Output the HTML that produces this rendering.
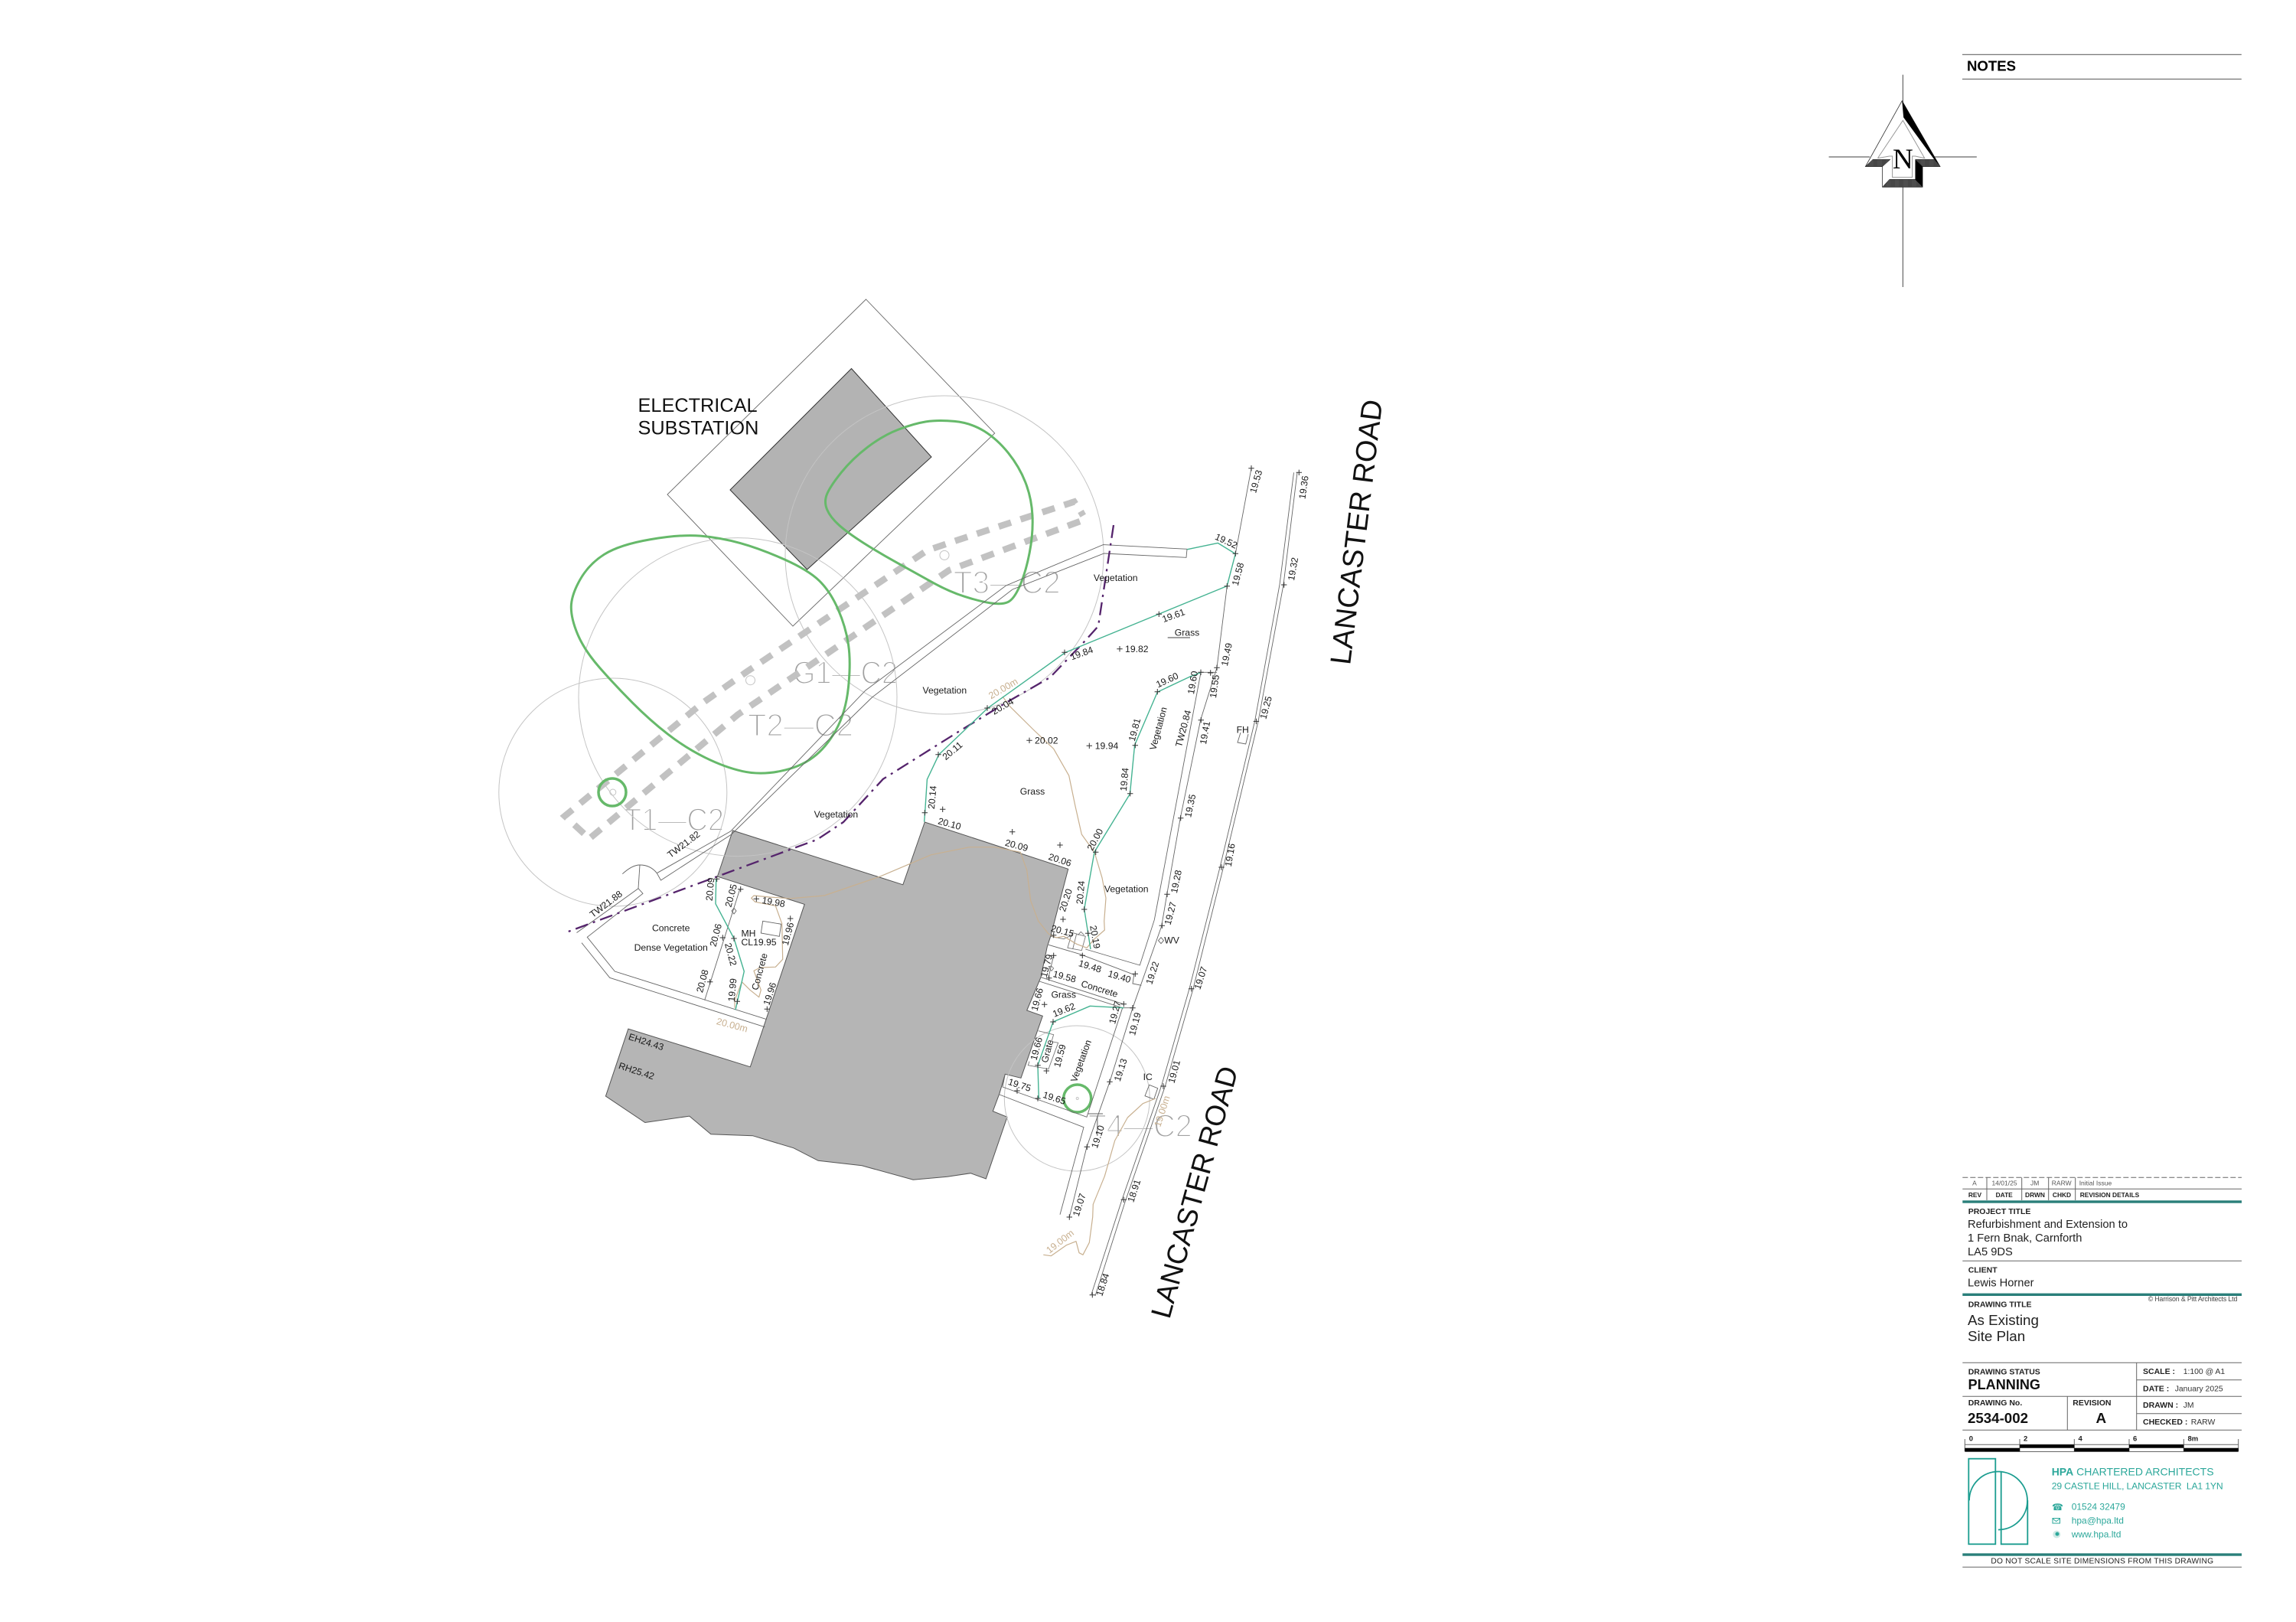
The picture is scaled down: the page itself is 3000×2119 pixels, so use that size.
<!DOCTYPE html>
<html lang="en">
<head>
<meta charset="utf-8">
<title>As Existing Site Plan</title>
<style>
html,body{margin:0;padding:0;background:#fff}
svg{display:block}
.z *{vector-effect:non-scaling-stroke}
text{font-family:"Liberation Sans",sans-serif}
</style>
</head>
<body>
<svg xmlns="http://www.w3.org/2000/svg" width="3000" height="2119" viewBox="0 0 3000 2119">
<defs>
<path id="c" d="M-3.7 0H3.7M0-3.7V3.7" fill="none" stroke="#333" stroke-width="1"/>
<pattern id="h" width="2.4" height="4" patternUnits="userSpaceOnUse"><rect width="2.4" height="4" fill="#999"/><rect width="1.6" height="4" fill="#222"/></pattern>
</defs>
<rect width="3000" height="2119" fill="#fff"/>

<!-- tree labels -->
<g font-size="42" fill="#a0a0a0" stroke="#fff" stroke-width="2">
<text x="1245.7" y="775" textLength="140" lengthAdjust="spacingAndGlyphs">T3—C2</text>
<text x="1036" y="892.8" textLength="137" lengthAdjust="spacingAndGlyphs">G1—C2</text>
<text x="977" y="961.6" textLength="138" lengthAdjust="spacingAndGlyphs">T2—C2</text>
<text x="815" y="1085" textLength="131" lengthAdjust="spacingAndGlyphs">T1—C2</text>
<text x="1421.7" y="1485" textLength="136" lengthAdjust="spacingAndGlyphs">T4—C2</text>
</g>

<!-- substation -->
<polygon points="1131.5,391 1299.7,566 1036,818 872,646" fill="none" stroke="#666" stroke-width=".9"/>
<polygon points="1112.5,481.5 1217,597 1054.6,744 954,640" fill="#b3b3b3" stroke="#333" stroke-width="1"/>

<!-- main building -->
<polygon fill="#b5b5b5" stroke="#555" stroke-width="1" points="957.5,1085 1179.8,1155.8 1208.3,1074 1395.7,1135.3 1372.7,1223.3 1368.3,1236.7 1360,1276.7 1341.7,1320 1362.3,1327.3 1334,1408.3 1313.3,1403.3 1306,1428.3 1297.3,1451.7 1316,1459.3 1288.3,1540 1268.2,1532.7 1237.8,1537.3 1193.2,1541.2 1126.2,1522.8 1069.1,1516.3 1037,1499.8 983.4,1483.7 928.9,1481.8 900.8,1458.1 842.8,1466.5 791.4,1432.1 820.9,1344.1 980.3,1393.8 1051.2,1181.4 937.4,1145.1"/>

<!-- tree constraint circles -->
<g fill="none" stroke="#c4c4c4" stroke-width="1">
<circle cx="1234" cy="725" r="208"/>
<circle cx="964" cy="910.6" r="208"/>
<circle cx="800.8" cy="1035" r="149"/>
<circle cx="1407.3" cy="1435" r="95"/>
<circle cx="1234" cy="725.4" r="6"/>
<circle cx="980.5" cy="888.7" r="6"/>
<circle cx="800.8" cy="1035" r="4"/>
<circle cx="1407.7" cy="1435" r="1.5"/>
</g>

<!-- root protection dashes -->
<g fill="none" stroke="#c2c2c2" stroke-width="8.5" stroke-dasharray="17 13">
<path d="M763,1089L738,1066L918.5,918L976,877.4L1211,719.3L1248.5,706.5L1403.5,655.5L1409,664"/>
<path d="M772,1094L964,933.6L1240,745L1418,678.5L1412,668"/>
</g>

<!-- canopy spreads -->
<g class="z" transform="translate(620 380) scale(.574 .5102)" fill="none" stroke="#66b96a" stroke-width="3">
<path d="M515,627.5 Q560,632 605,646 Q650,660 705,687.5 Q760,715 785,742.5 Q810,770 827.5,815 Q845,860 851,905 Q857,950 851,1015 Q845,1080 822.5,1125 Q800,1170 770,1195 Q740,1220 695,1230 Q650,1240 610,1230 Q570,1220 525,1195 Q480,1170 440,1135 Q400,1100 360,1055 Q320,1010 285,965 Q250,920 235,880 Q220,840 220,810 Q220,780 240,740 Q260,700 295,675 Q330,650 400,636.5 Q470,623 515,627.5Z"/>
<path d="M1092.5,334 Q1130,338 1160,359 Q1190,380 1215,415 Q1240,450 1254,490 Q1268,530 1270,575 Q1272,620 1263.5,670 Q1255,720 1241.5,755 Q1228,790 1214,797 Q1200,804 1175,799.5 Q1150,795 1115,782.5 Q1080,770 1040,745 Q1000,720 960,695 Q920,670 885,645 Q850,620 830,600 Q810,580 802.5,560 Q795,540 802.5,520 Q810,500 835,465 Q860,430 895,400 Q930,370 965,355 Q1000,340 1027.5,335 Q1055,330 1092.5,334Z"/>
</g>
<g fill="none" stroke="#66b96a" stroke-width="3.5">
<circle cx="800" cy="1035" r="18"/>
<circle cx="1407.7" cy="1435" r="18"/>
</g>

<!-- thin linework -->
<g fill="none" stroke="#666" stroke-width=".9">
<!-- boundary walls -->
<polyline points="858.3,1140.7 954.6,1086 1130.9,902 1314.5,765 1441.5,711.6 1551,717.3 1550,728.3 1442.5,723 1323,770 1139.5,911 955.8,1090 863.5,1150 858.3,1140.7"/>
<!-- door arcs -->
<path d="M813.3,1141.7 Q826,1130 836,1130 Q850,1130 858.3,1140.7"/>
<path d="M836,1130L834,1160.7"/>
<polyline points="753.5,1218.5 834,1160.7 840,1167.3 767.3,1224.3 803.3,1269 1001.7,1331.7"/>
<polyline points="760,1231.7 796.7,1277.3 999.3,1341.7"/>
<!-- yard -->
<line x1="966.7" y1="1161.7" x2="920.7" y2="1306.7"/>
<polygon points="996.7,1203.3 1020.7,1207.3 1018.3,1223.3 994.3,1219"/>
<polygon points="959,1186.3 962,1190 959,1194 956,1190"/>
<!-- east road kerb -->
<polyline points="1695,617.3 1677,763.7 1644,942.4 1598.5,1133 1559,1291.7 1522.5,1418.7 1471,1567.3 1431,1693"/>
<polyline points="1690.5,617.3 1672,763.7 1639.5,942.4 1594,1133 1554,1291.7 1517.5,1418.7 1466,1567.3 1426,1691"/>
<!-- footway back -->
<polyline points="1635,611.7 1614.3,723.3 1603.3,765.7 1590,872.3 1568.7,940.5 1542.4,1067.9 1524.7,1168.6 1517.7,1210 1480,1316.7 1450,1413.3 1420,1498.3 1397.3,1590"/>
<line x1="1569" y1="878.3" x2="1590" y2="878.3"/>
<!-- inner wall -->
<polyline points="1569,878.5 1512.4,1180 1508.3,1201.7 1489.3,1261 1418.3,1240"/>
<polyline points="1370,1234.3 1411.7,1246.7 1481.7,1273.3 1480,1285 1491.3,1287.3"/>
<polyline points="1360,1276.7 1467.7,1311.7"/>
<polyline points="1358,1282 1466.7,1316.7 1480,1316.7"/>
<polyline points="1466.7,1316.7 1420,1459.3 1310,1420 1313.3,1403.3"/>
<polyline points="1306,1430 1416,1472.7 1385,1586.7"/>
<line x1="1376.7" y1="1248.3" x2="1370" y2="1276.7"/>
<line x1="1525.7" y1="833" x2="1555" y2="833" stroke-width="1.3"/>
<line x1="1421.7" y1="1455" x2="1441" y2="1455"/>
<!-- FH, IC, WV -->
<polyline points="1621,957 1617,970 1627.7,972 1631,959"/>
<polygon points="1501.7,1417.3 1512.7,1421.7 1507.7,1436 1496,1431.7"/>
<polygon points="1517,1224.7 1520.5,1228.7 1517,1232.7 1513.5,1228.7"/>
</g>

<!-- detail boxes -->
<g class="z" transform="translate(1280 1130) scale(.3333)" fill="none" stroke="#777" stroke-width=".9">
<polyline points="230,650 290,665 282,692 308,697 270,800 190,785 195,770"/>
<polygon points="362,265 415,280 400,335 345,325"/>
<line x1="380" y1="270" x2="365" y2="330"/>
<polyline points="385,275 397,262 410,275"/>
<polyline points="278,280 330,290 362,275"/>
<polygon points="280,395 290,405 282,415 272,405"/>
</g>

<!-- purple boundary -->
<polyline fill="none" stroke="#55246c" stroke-width="2.3" stroke-dasharray="17 7 3 7" points="1455,686 1435,818 1418,837 1372,885 1314.5,918 1251.4,956.5 1153.8,1017.8 1102,1074 1067.7,1096.8 937.4,1145 740,1218"/>

<!-- tan contours -->
<g fill="none" stroke="#c8b090" stroke-width="1.2" stroke-linejoin="round">
<polyline points="1310,910 1320,923.3 1350,953 1376.7,978.3 1396.7,1013.3 1405,1053.3 1413.3,1090 1430,1113.3 1440,1146.7 1445,1173.3 1442.7,1203.3 1443.3,1215 1430,1226.7 1420,1238.3 1406.7,1233.3 1390,1223.3 1380,1225 1370,1220 1356.7,1203.3 1346.7,1176.7 1341.7,1136.7 1333.3,1113.3 1300,1106.7 1266.7,1106.7 1216.7,1116.7 1150,1145 1077,1170 1032.5,1173.8 1005.7,1172 985,1170 981.7,1173.3 986.7,1178.3 1013.3,1183.3 1021.7,1206.7 1022.7,1253.3 1013.3,1263.3 993.3,1264 985,1268.3 994.3,1293.3 991.7,1302.7 980,1293.3 969.3,1282.7 960,1306.7 960,1316.7"/>
<polyline points="1363.3,1639.3 1373.3,1640.7 1393.3,1626.7 1406,1621.7 1410,1636.7 1415,1639.3 1423.3,1623.3 1427.7,1590 1428.3,1573.3 1443.3,1536.7 1456.7,1490 1473.3,1460 1493.3,1441.7 1510,1435"/>
</g>

<!-- green survey lines -->
<g fill="none" stroke="#45b392" stroke-width="1.4" stroke-linejoin="round">
<polyline points="1551,717.8 1591.2,709.4 1614.2,723.5 1603.2,765.6 1514.7,802 1391.8,852.5 1290.4,925.2 1226.8,985.7 1211.4,1018.2 1208.6,1061.4 1207.6,1073.7"/>
<polyline points="1569.2,878.5 1554.4,884.2 1512.3,904.1 1482.6,973.4 1476.4,1037.3 1430,1113 1416.7,1187.7 1425,1240"/>
<polyline points="1468.3,1316.7 1424.3,1314.3 1376,1335 1356,1391.7 1357.3,1435"/>
<polyline points="935.7,1148.3 935,1180.7 959,1226 972.3,1269 961,1319.3"/>
</g>

<!-- survey crosses -->
<g>
<use href="#c" x="1635" y="611.7"/><use href="#c" x="1697.3" y="617.3"/><use href="#c" x="1614.3" y="723.3"/><use href="#c" x="1603.3" y="765.7"/><use href="#c" x="1677.7" y="764"/><use href="#c" x="1514.3" y="802.3"/><use href="#c" x="1391" y="852.3"/><use href="#c" x="1590" y="872.3"/><use href="#c" x="1581.7" y="879"/><use href="#c" x="1569" y="878.3"/><use href="#c" x="1512.3" y="903.7"/>
<use href="#c" x="1290" y="925"/><use href="#c" x="1226" y="985.7"/><use href="#c" x="1208.3" y="1061.7"/><use href="#c" x="1569.3" y="940.7"/><use href="#c" x="1483.3" y="973.7"/><use href="#c" x="1476.7" y="1036.7"/><use href="#c" x="1431.7" y="1113.3"/><use href="#c" x="1542.7" y="1068.7"/><use href="#c" x="1525" y="1168.3"/><use href="#c" x="1518.3" y="1209.3"/><use href="#c" x="1416.7" y="1188"/><use href="#c" x="1421.7" y="1219.3"/><use href="#c" x="1376.7" y="1221.7"/>
<use href="#c" x="1641.4" y="942.4"/><use href="#c" x="1596" y="1133"/>
<use href="#c" x="1414.3" y="1248.3"/><use href="#c" x="1483.3" y="1272.3"/><use href="#c" x="1376.7" y="1248.3"/><use href="#c" x="1370.7" y="1277.7"/><use href="#c" x="1556.7" y="1291.7"/><use href="#c" x="1364.7" y="1312.3"/><use href="#c" x="1468.3" y="1311.7"/><use href="#c" x="1480" y="1316.7"/><use href="#c" x="1376" y="1335"/><use href="#c" x="1356" y="1391.7"/><use href="#c" x="1367.3" y="1399"/><use href="#c" x="1450" y="1413.3"/><use href="#c" x="1520" y="1419"/><use href="#c" x="1329" y="1425"/><use href="#c" x="1356" y="1435"/><use href="#c" x="1420.3" y="1498.3"/>
<use href="#c" x="1397.3" y="1590"/><use href="#c" x="1468.3" y="1567.3"/><use href="#c" x="1427.3" y="1691.7"/>
<use href="#c" x="936.7" y="1148.3"/><use href="#c" x="967.7" y="1161.7"/><use href="#c" x="988.3" y="1174.3"/><use href="#c" x="1032.7" y="1200"/><use href="#c" x="944.3" y="1225"/><use href="#c" x="959" y="1226"/><use href="#c" x="927.7" y="1282.7"/><use href="#c" x="963.3" y="1308.3"/><use href="#c" x="1002.3" y="1318.3"/>
<use href="#c" x="1463" y="847.7"/><use href="#c" x="1423.3" y="974.3"/><use href="#c" x="1345" y="967.3"/><use href="#c" x="1231.7" y="1057.3"/><use href="#c" x="1322.7" y="1086.7"/><use href="#c" x="1385" y="1104"/><use href="#c" x="1389" y="1201"/>
</g>

<!-- big labels -->
<g fill="#111">
<text x="833.5" y="538" font-size="25.3">ELECTRICAL</text>
<text x="833.5" y="567.5" font-size="25.3">SUBSTATION</text>
<text transform="translate(1772 695) rotate(-83)" font-size="38" text-anchor="middle" dy=".35em">LANCASTER ROAD</text>
<text transform="translate(1560.5 1557.3) rotate(-74.6)" font-size="37" text-anchor="middle" dy=".35em">LANCASTER ROAD</text>
</g>

<!-- spot labels -->
<g font-size="12.2" text-anchor="middle" fill="#1a1a1a">
<text transform="translate(1641 629) rotate(-74)" dy=".35em">19.53</text>
<text transform="translate(1703.3 636.7) rotate(-82)" dy=".35em">19.36</text>
<text transform="translate(1602.3 706.7) rotate(25)" dy=".35em">19.52</text>
<text transform="translate(1617.3 750) rotate(-75)" dy=".35em">19.58</text>
<text transform="translate(1457.7 754.7)" dy=".35em">Vegetation</text>
<text transform="translate(1689.3 743.3) rotate(-80)" dy=".35em">19.32</text>
<text transform="translate(1533.3 804) rotate(-20)" dy=".35em">19.61</text>
<text transform="translate(1551 826)" dy=".35em">Grass</text>
<text transform="translate(1413.3 853.3) rotate(-20)" dy=".35em">19.84</text>
<text transform="translate(1485.3 847.7)" dy=".35em">19.82</text>
<text transform="translate(1602.7 855) rotate(-78)" dy=".35em">19.49</text>
<text transform="translate(1525 888.3) rotate(-25)" dy=".35em">19.60</text>
<text transform="translate(1558.3 891.7) rotate(-80)" dy=".35em">19.60</text>
<text transform="translate(1586.7 896.7) rotate(-82)" dy=".35em">19.55</text>
<text transform="translate(1653.9 924.4) rotate(-75)" dy=".35em">19.25</text>
<text transform="translate(1574.3 957.3) rotate(-80)" dy=".35em">19.41</text>
<text transform="translate(1546 951.7) rotate(-75)" dy=".35em">TW20.84</text>
<text transform="translate(1513.3 951.7) rotate(-75)" dy=".35em">Vegetation</text>
<text transform="translate(1482.3 953.3) rotate(-75)" dy=".35em">19.81</text>
<text transform="translate(1469 1018.3) rotate(-85)" dy=".35em">19.84</text>
<text transform="translate(1446 974.3)" dy=".35em">19.94</text>
<text transform="translate(1367.3 967.3)" dy=".35em">20.02</text>
<text transform="translate(1310 922.7) rotate(-30)" dy=".35em">20.04</text>
<text transform="translate(1234.3 901.7)" dy=".35em">Vegetation</text>
<text transform="translate(1244.3 980.7) rotate(-40)" dy=".35em">20.11</text>
<text transform="translate(1218 1041.7) rotate(-85)" dy=".35em">20.14</text>
<text transform="translate(1349 1033.7)" dy=".35em">Grass</text>
<text transform="translate(1240.7 1076) rotate(15)" dy=".35em">20.10</text>
<text transform="translate(1328.3 1104.3) rotate(15)" dy=".35em">20.09</text>
<text transform="translate(1385 1123.3) rotate(18)" dy=".35em">20.06</text>
<text transform="translate(1430.7 1096.7) rotate(-62)" dy=".35em">20.00</text>
<text transform="translate(1555 1052.7) rotate(-78)" dy=".35em">19.35</text>
<text transform="translate(1607 1117) rotate(-80)" dy=".35em">19.16</text>
<text transform="translate(1536.7 1151.7) rotate(-78)" dy=".35em">19.28</text>
<text transform="translate(1411.7 1166) rotate(-85)" dy=".35em">20.24</text>
<text transform="translate(1471.7 1161)" dy=".35em">Vegetation</text>
<text transform="translate(1392.3 1176) rotate(-72)" dy=".35em">20.20</text>
<text transform="translate(1388.3 1216) rotate(15)" dy=".35em">20.15</text>
<text transform="translate(1431 1224) rotate(80)" dy=".35em">20.19</text>
<text transform="translate(1529 1193.3) rotate(-75)" dy=".35em">19.27</text>
<text transform="translate(1531 1228.3)" dy=".35em">WV</text>
<text transform="translate(1092.4 1063.7)" dy=".35em">Vegetation</text>
<text transform="translate(1424.3 1262.3) rotate(17)" dy=".35em">19.48</text>
<text transform="translate(1462.7 1275.7) rotate(17)" dy=".35em">19.40</text>
<text transform="translate(1505.7 1271) rotate(-72)" dy=".35em">19.22</text>
<text transform="translate(1367.3 1261.7) rotate(-75)" dy=".35em">19.79</text>
<text transform="translate(1391 1275.7) rotate(15)" dy=".35em">19.58</text>
<text transform="translate(1436.7 1291.7) rotate(17)" dy=".35em">Concrete</text>
<text transform="translate(1568.7 1277.7) rotate(-72)" dy=".35em">19.07</text>
<text transform="translate(1389.7 1299.3)" dy=".35em">Grass</text>
<text transform="translate(1355 1305.7) rotate(-75)" dy=".35em">19.66</text>
<text transform="translate(1390 1319.3) rotate(-22)" dy=".35em">19.62</text>
<text transform="translate(1456.7 1322.7) rotate(-75)" dy=".35em">19.27</text>
<text transform="translate(1482.7 1337.7) rotate(-75)" dy=".35em">19.19</text>
<text transform="translate(1354 1370) rotate(-75)" dy=".35em">19.66</text>
<text transform="translate(1368.3 1373.3) rotate(-75)" dy=".35em">Grate</text>
<text transform="translate(1384.7 1379.3) rotate(-75)" dy=".35em">19.59</text>
<text transform="translate(1412.3 1386) rotate(-70)" dy=".35em">Vegetation</text>
<text transform="translate(1464 1397.7) rotate(-72)" dy=".35em">19.13</text>
<text transform="translate(1534 1400) rotate(-75)" dy=".35em">19.01</text>
<text transform="translate(1499.7 1406.7)" dy=".35em">IC</text>
<text transform="translate(1332.3 1417.3) rotate(18)" dy=".35em">19.75</text>
<text transform="translate(1377.7 1434.3) rotate(18)" dy=".35em">19.65</text>
<text transform="translate(1434.3 1485) rotate(-72)" dy=".35em">19.10</text>
<text transform="translate(1410 1574) rotate(-72)" dy=".35em">19.07</text>
<text transform="translate(1481.7 1555.7) rotate(-72)" dy=".35em">18.91</text>
<text transform="translate(1440.7 1678.3) rotate(-72)" dy=".35em">18.84</text>
<text transform="translate(791.7 1181) rotate(-37)" dy=".35em">TW21.88</text>
<text transform="translate(893.2 1103) rotate(-37)" dy=".35em">TW21.82</text>
<text transform="translate(927.7 1161.7) rotate(-85)" dy=".35em">20.09</text>
<text transform="translate(955 1170) rotate(-75)" dy=".35em">20.05</text>
<text transform="translate(1010.7 1178.3) rotate(10)" dy=".35em">19.98</text>
<text transform="translate(876.7 1212)" dy=".35em">Concrete</text>
<text transform="translate(876.7 1237.7)" dy=".35em">Dense Vegetation</text>
<text transform="translate(935 1221.7) rotate(-75)" dy=".35em">20.06</text>
<text transform="translate(1029.3 1220) rotate(-75)" dy=".35em">19.96</text>
<text transform="translate(955 1246.7) rotate(75)" dy=".35em">20.22</text>
<text transform="translate(992.3 1269.3) rotate(-75)" dy=".35em">Concrete</text>
<text transform="translate(917.7 1281.7) rotate(-75)" dy=".35em">20.08</text>
<text transform="translate(956.7 1293.3) rotate(-85)" dy=".35em">19.99</text>
<text transform="translate(1005.7 1298.3) rotate(-72)" dy=".35em">19.96</text>
<text transform="translate(844.3 1361) rotate(18)" dy=".35em">EH24.43</text>
<text transform="translate(831.7 1399) rotate(18)" dy=".35em">RH25.42</text>
<text x="968.5" y="1223.5" text-anchor="start">MH</text>
<text x="968.5" y="1235" text-anchor="start">CL19.95</text>
<text transform="translate(1623.7 953)" dy=".35em">FH</text>
</g>
<!-- contour labels -->
<g font-size="12.5" text-anchor="middle" fill="#c8b090">
<text transform="translate(1310.7 899.3) rotate(-30)" dy=".35em">20.00m</text>
<text transform="translate(956.7 1339) rotate(15)" dy=".35em">20.00m</text>
<text transform="translate(1518.3 1451.7) rotate(-72)" dy=".35em">19.00m</text>
<text transform="translate(1385 1621.7) rotate(-38)" dy=".35em">19.00m</text>
</g>

<!-- north arrow -->
<g class="z" transform="translate(2380 50) scale(.3827 .3333)">
<g stroke="#666" stroke-width="1.2" fill="none">
<line x1="278" y1="143" x2="278" y2="975"/>
<line x1="25" y1="465" x2="165" y2="465"/>
<line x1="385" y1="465" x2="530" y2="465"/>
</g>
<polygon points="275,245 405,503 345,503 345,583 208,583 208,503 150,503" fill="#fff" stroke="#333" stroke-width=".8"/>
<polygon points="275,245 405,503 385,475 280,310" fill="#000"/>
<polygon points="150,503 175,475 235,475 208,503" fill="url(#h)" stroke="#222" stroke-width=".5"/>
<polygon points="320,475 385,475 405,503 345,503" fill="url(#h)" stroke="#222" stroke-width=".5"/>
<polygon points="208,583 232,553 320,553 345,583" fill="url(#h)" stroke="#222" stroke-width=".5"/>
<polygon points="320,475 345,503 345,583 320,553" fill="#000"/>
<polyline points="192,470 278,322 352,470 320,462 310,462 310,545 242,545 242,462 232,462 192,470" fill="#fff" stroke="#999" stroke-width="1"/>
</g>
<text x="2486.4" y="220" font-size="37" text-anchor="middle" style="font-family:'Liberation Serif',serif" fill="#000">N</text>

<!-- NOTES -->
<g stroke="#666" stroke-width="1.1">
<line x1="2564" y1="71.3" x2="2928.8" y2="71.3"/>
<line x1="2564" y1="103.3" x2="2928.8" y2="103.3"/>
</g>
<text x="2570" y="92.7" font-size="18.6" font-weight="bold" fill="#000">NOTES</text>

<!-- title block lines -->
<g stroke="#666" stroke-width="1" fill="none">
<line x1="2564.3" y1="1538.3" x2="2929" y2="1538.3" stroke-dasharray="7 3"/>
<line x1="2564.3" y1="1553.3" x2="2929" y2="1553.3"/>
<line x1="2596" y1="1538.5" x2="2596" y2="1568"/>
<line x1="2641.7" y1="1538.5" x2="2641.7" y2="1568"/>
<line x1="2676.7" y1="1538.5" x2="2676.7" y2="1568"/>
<line x1="2711.7" y1="1538.5" x2="2711.7" y2="1568"/>
<line x1="2564.3" y1="1647.3" x2="2929" y2="1647.3"/>
<line x1="2564.3" y1="1780.3" x2="2929" y2="1780.3"/>
<line x1="2791.7" y1="1780.3" x2="2791.7" y2="1868.3"/>
<line x1="2791.7" y1="1802.7" x2="2929" y2="1802.7"/>
<line x1="2564.3" y1="1824.3" x2="2929" y2="1824.3"/>
<line x1="2791.7" y1="1846.7" x2="2929" y2="1846.7"/>
<line x1="2701.3" y1="1824.3" x2="2701.3" y2="1868.3"/>
<line x1="2564.3" y1="1868.3" x2="2929" y2="1868.3"/>
<line x1="2564.3" y1="2047.3" x2="2929" y2="2047.3"/>
</g>
<g fill="#2a7f7a">
<rect x="2564.3" y="1568.3" width="364.7" height="3.4"/>
<rect x="2564.3" y="1689.6" width="364.7" height="3.4"/>
<rect x="2564.3" y="2029.3" width="364.7" height="3.4"/>
</g>

<!-- revision row -->
<g font-size="8.5" fill="#555" text-anchor="middle">
<text x="2580" y="1548.4">A</text>
<text x="2619" y="1548.4">14/01/25</text>
<text x="2658.7" y="1548.4">JM</text>
<text x="2693.7" y="1548.4">RARW</text>
<text x="2716.7" y="1548.4" text-anchor="start">Initial Issue</text>
</g>
<g font-size="8.4" font-weight="bold" fill="#222" text-anchor="middle">
<text x="2580.5" y="1564">REV</text>
<text x="2618.7" y="1564">DATE</text>
<text x="2659" y="1564">DRWN</text>
<text x="2694" y="1564">CHKD</text>
<text x="2717.7" y="1564" text-anchor="start">REVISION DETAILS</text>
</g>

<!-- title text -->
<g fill="#222">
<g font-size="10.5" font-weight="bold">
<text x="2571.7" y="1586">PROJECT TITLE</text>
<text x="2571.7" y="1662.3">CLIENT</text>
<text x="2571.7" y="1707.7">DRAWING TITLE</text>
<text x="2571.7" y="1795.7">DRAWING STATUS</text>
<text x="2571.7" y="1836">DRAWING No.</text>
<text x="2708.3" y="1836">REVISION</text>
<text x="2800" y="1795">SCALE :</text>
<text x="2800" y="1817.3">DATE :</text>
<text x="2800" y="1839">DRAWN :</text>
<text x="2800" y="1861">CHECKED :</text>
</g>
<g font-size="14.7">
<text x="2571" y="1604">Refurbishment and Extension to</text>
<text x="2571" y="1622">1 Fern Bnak, Carnforth</text>
<text x="2571" y="1640">LA5 9DS</text>
<text x="2571" y="1680.7">Lewis Horner</text>
</g>
<g font-size="18.8">
<text x="2571" y="1731">As Existing</text>
<text x="2571" y="1752">Site Plan</text>
</g>
<text x="2806.7" y="1700" font-size="8.8" fill="#444" textLength="116.7">© Harrison &amp; Pitt Architects Ltd</text>
<g font-weight="bold" fill="#111">
<text x="2571.5" y="1815" font-size="18.1">PLANNING</text>
<text x="2571" y="1859" font-size="18.7">2534-002</text>
<text x="2745.3" y="1859" font-size="18.9" text-anchor="middle">A</text>
</g>
<g font-size="10.4" fill="#333">
<text x="2852.7" y="1795">1:100 @ A1</text>
<text x="2841.7" y="1817.3">January 2025</text>
<text x="2852.7" y="1839">JM</text>
<text x="2862.7" y="1861">RARW</text>
</g>
</g>

<!-- scale bar -->
<g font-size="9.5" font-weight="bold" fill="#222">
<text x="2572.7" y="1882.3">0</text>
<text x="2644" y="1882.3">2</text>
<text x="2715.5" y="1882.3">4</text>
<text x="2787" y="1882.3">6</text>
<text x="2858.5" y="1882.3">8m</text>
</g>
<g stroke="#666" stroke-width="1">
<line x1="2567.3" y1="1880" x2="2567.3" y2="1896"/>
<line x1="2639" y1="1880" x2="2639" y2="1896"/>
<line x1="2710.3" y1="1880" x2="2710.3" y2="1896"/>
<line x1="2782" y1="1880" x2="2782" y2="1896"/>
<line x1="2853.3" y1="1880" x2="2853.3" y2="1896"/>
<line x1="2924.7" y1="1880" x2="2924.7" y2="1896"/>
<line x1="2567.3" y1="1887.3" x2="2924.7" y2="1887.3"/>
<line x1="2567.3" y1="1896.5" x2="2924.7" y2="1896.5"/>
</g>
<g fill="#000">
<rect x="2639" y="1887.3" width="71.3" height="4.4"/>
<rect x="2782" y="1887.3" width="71.3" height="4.4"/>
<rect x="2567.3" y="1891.7" width="71.7" height="4.4"/>
<rect x="2710.3" y="1891.7" width="71.7" height="4.4"/>
<rect x="2853.3" y="1891.7" width="71.4" height="4.4"/>
</g>

<!-- logo -->
<g fill="none" stroke="#1a9c8f" stroke-width="1.8">
<rect x="2572.3" y="1905.7" width="35" height="111.6"/>
<path d="M2614.7,1922.5V2017.3H2649.3V1960"/>
<path d="M2573,1960.3A38,38 0 1 1 2611,1998.5"/>
</g>
<g fill="#2da89b">
<text x="2680.7" y="1927.3" font-size="14"><tspan font-weight="bold">HPA</tspan> CHARTERED ARCHITECTS</text>
<text x="2680.7" y="1945.7" font-size="12.2" textLength="224">29 CASTLE HILL, LANCASTER&#160;&#160;LA1 1YN</text>
<text x="2681" y="1973" font-size="12">☎</text>
<text x="2706.7" y="1972.3" font-size="12">01524 32479</text>
<text x="2706.7" y="1990.7" font-size="12">hpa@hpa.ltd</text>
<text x="2706.7" y="2008.3" font-size="12">www.hpa.ltd</text>
</g>
<g fill="none" stroke="#2da89b" stroke-width="1">
<rect x="2682" y="1983.5" width="9.5" height="6.5"/>
<path d="M2682,1984L2686.7,1987.5L2691.5,1984"/>
</g>
<circle cx="2687.3" cy="2004.5" r="5" fill="#cfe9e5"/>
<circle cx="2688" cy="2004" r="2.5" fill="#2da89b"/>

<text x="2746.7" y="2042.3" font-size="10.2" text-anchor="middle" fill="#222" textLength="290.7">DO NOT SCALE SITE DIMENSIONS FROM THIS DRAWING</text>
</svg>
</body>
</html>
